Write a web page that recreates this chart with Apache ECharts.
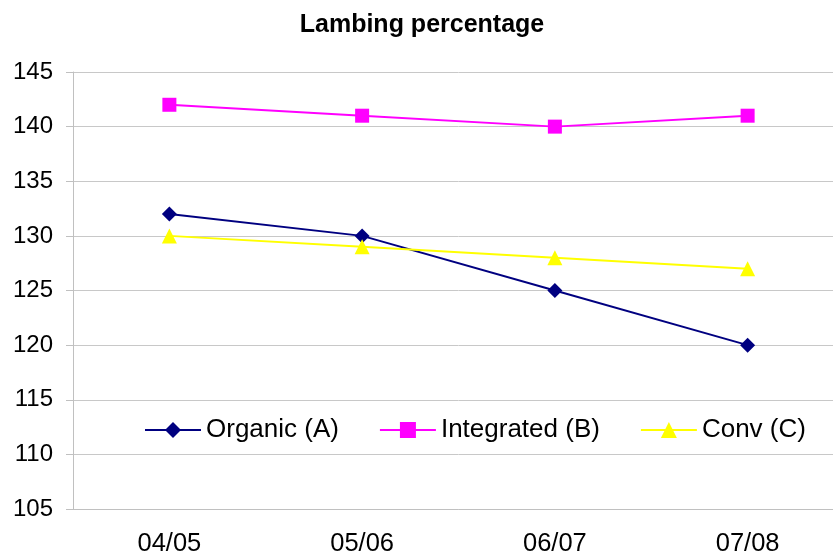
<!DOCTYPE html>
<html>
<head>
<meta charset="utf-8">
<script src="https://cdn.jsdelivr.net/npm/echarts@6/dist/echarts.min.js"></script>
<style>
  html, body { margin: 0; padding: 0; background: #fff; overflow: hidden; }
  #chart { width: 844px; height: 560px; }
</style>
</head>
<body>
<div id="chart"></div>
<script>
// plot area runs past the right edge of the picture, so the div is a bit wider than the window
const seasons = ['04/05', '05/06', '06/07', '07/08'];
const organic = [132, 130, 125, 120];
const integrated = [142, 141, 140, 141];
const conv = [130, 129, 128, 127];

const font = 'Liberation Sans, Arial, sans-serif';
const chart = echarts.init(document.getElementById('chart'));
chart.setOption({
    animation: false,
    title: {
        text: 'Lambing percentage',
        left: 'center',
        top: 8,
        textStyle: { fontFamily: font, fontSize: 25, fontWeight: 'bold', color: '#000' }
    },
    legend: {
        left: 139,
        top: 412,
        itemWidth: 56,
        itemHeight: 20,
        itemGap: 40,
        textStyle: { fontFamily: font, fontSize: 26, color: '#000' },
        data: ['Organic (A)', 'Integrated (B)', 'Conv (C)']
    },
    grid: { left: 73, top: 72, bottom: 51, right: 0 },
    xAxis: {
        type: 'category',
        data: seasons,
        boundaryGap: true,
        axisLine: { lineStyle: { color: '#c0c0c0', width: 1 } },
        axisTick: { length: 10, lineStyle: { color: '#c0c0c0' } },
        axisLabel: { fontFamily: font, fontSize: 25.5, color: '#000', margin: 22 }
    },
    yAxis: {
        type: 'value',
        min: 105,
        max: 145,
        interval: 5,
        axisLine: { show: true, lineStyle: { color: '#c0c0c0' } },
        axisTick: { show: true, length: 7, lineStyle: { color: '#c0c0c0' } },
        splitLine: { lineStyle: { color: '#c8c8c8' } },
        axisLabel: { fontFamily: font, fontSize: 24, color: '#000', margin: 20 }
    },
    series: [
        {
            name: 'Organic (A)', type: 'line', data: organic,
            symbol: 'diamond', symbolSize: 15,
            lineStyle: { color: '#000080', width: 2 },
            itemStyle: { color: '#000080' }
        },
        {
            name: 'Integrated (B)', type: 'line', data: integrated,
            symbol: 'rect', symbolSize: 14,
            lineStyle: { color: '#ff00ff', width: 2 },
            itemStyle: { color: '#ff00ff' }
        },
        {
            name: 'Conv (C)', type: 'line', data: conv,
            symbol: 'triangle', symbolSize: 15,
            lineStyle: { color: '#ffff00', width: 2 },
            itemStyle: { color: '#ffff00' }
        }
    ]
});
</script>
</body>
</html>
